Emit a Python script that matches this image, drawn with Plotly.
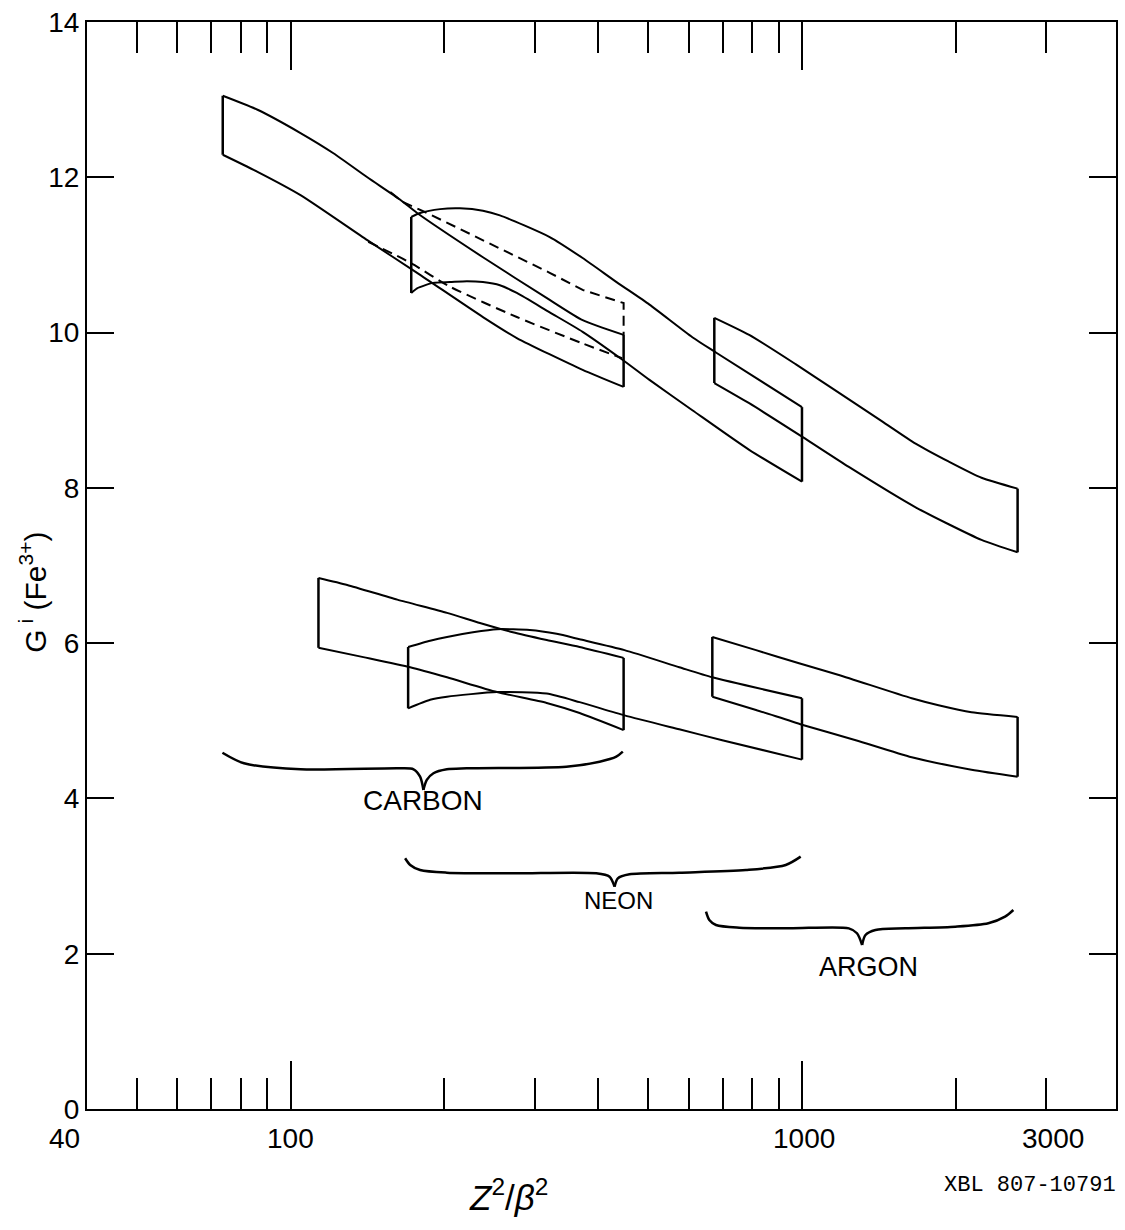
import numpy as np
import plotly.graph_objects as go

# ---------------- data: x = Z^2/beta^2 , y = G^i(Fe3+) ----------------
# Upper set of bands
carbon_u_top_x = [73.7, 86.2, 104.6, 121.3, 141.3, 163.9, 176.8, 237.8, 321.2, 372.5, 448]
carbon_u_top_y = [13.05, 12.87, 12.57, 12.31, 12.00, 11.71, 11.54, 10.97, 10.42, 10.16, 9.97]
carbon_u_bot_x = [73.7, 86.2, 104.6, 141.3, 176.8, 237.8, 277.0, 372.5, 448]
carbon_u_bot_y = [12.29, 12.07, 11.77, 11.19, 10.77, 10.20, 9.93, 9.52, 9.30]

carbon_dash_top_x = [156.7, 166.1, 184.9, 237.8, 321.2, 372.5, 448, 448]
carbon_dash_top_y = [11.81, 11.68, 11.54, 11.19, 10.77, 10.55, 10.38, 9.97]
carbon_dash_bot_x = [141.9, 171.4, 205.1, 277.0, 372.5, 445]
carbon_dash_bot_y = [11.17, 10.90, 10.59, 10.20, 9.86, 9.67]

neon_u_top_x = [172.2, 179.2, 196.1, 214.5, 237.8, 256.7, 321.2, 372.5, 434.0, 503.3, 610.5, 680.0, 1000]
neon_u_top_y = [11.49, 11.54, 11.59, 11.60, 11.57, 11.51, 11.23, 10.96, 10.65, 10.36, 9.94, 9.74, 9.04]
neon_u_bot_x = [172.2, 176.8, 190.0, 205.1, 221.3, 237.8, 256.7, 277.0, 321.2, 372.5, 445.7, 503.3, 610.5, 788.5, 1000]
neon_u_bot_y = [10.51, 10.57, 10.64, 10.65, 10.66, 10.65, 10.61, 10.51, 10.26, 10.01, 9.65, 9.39, 9.00, 8.49, 8.08]

argon_u_top_x = [673.9, 788.5, 973.4, 1128.9, 1432, 1668, 1934, 2244, 2640]
argon_u_top_y = [10.19, 9.97, 9.59, 9.31, 8.86, 8.57, 8.34, 8.13, 7.99]
argon_u_bot_x = [673.9, 788.5, 1000, 1235, 1668, 2244, 2640]
argon_u_bot_y = [9.35, 9.09, 8.66, 8.27, 7.75, 7.33, 7.17]

# Lower set of bands
carbon_l_top_x = [113.4, 129.1, 161.7, 202.3, 234.6, 272.1, 316.9, 367.5, 448]
carbon_l_top_y = [6.84, 6.75, 6.56, 6.39, 6.26, 6.14, 6.04, 5.95, 5.81]
carbon_l_bot_x = [113.4, 138.8, 171.4, 202.3, 253.3, 316.9, 367.5, 448]
carbon_l_bot_y = [5.94, 5.82, 5.69, 5.56, 5.37, 5.23, 5.10, 4.88]

neon_l_top_x = [169.8, 187.5, 202.3, 227.3, 253.3, 293.7, 331.4, 367.5, 449.8, 575.5, 667.9, 1000]
neon_l_top_y = [5.95, 6.03, 6.08, 6.14, 6.18, 6.17, 6.12, 6.05, 5.91, 5.69, 5.56, 5.29]
neon_l_bot_x = [169.8, 187.5, 202.3, 253.3, 316.9, 367.5, 449.8, 575.5, 698.4, 1000]
neon_l_bot_y = [5.16, 5.27, 5.31, 5.37, 5.35, 5.24, 5.07, 4.89, 4.75, 4.50]

argon_l_top_x = [667.9, 813.2, 986.8, 1180.6, 1639, 1849, 2145, 2640]
argon_l_top_y = [6.08, 5.91, 5.74, 5.59, 5.29, 5.20, 5.11, 5.05]
argon_l_bot_x = [667.9, 813.2, 1000, 1274, 1639, 2145, 2640]
argon_l_bot_y = [5.31, 5.14, 4.95, 4.75, 4.53, 4.37, 4.28]

# Braces grouping the bands
carbon_brace_x = [73.6, 81.1, 104.6, 163.9, 174.0, 179.2, 181.9, 184.7, 190.3, 202.1, 221.0, 346.2, 402.1, 433.5, 446.4]
carbon_brace_y = [4.589, 4.453, 4.375, 4.388, 4.375, 4.280, 4.109, 4.238, 4.324, 4.375, 4.388, 4.409, 4.473, 4.538, 4.602]
neon_brace_x = [167.5, 171.4, 179.2, 202.1, 272.4, 396.1, 420.6, 430.1, 436.5, 460.0, 575.5, 777.0, 929.4, 994.2]
neon_brace_y = [3.229, 3.143, 3.078, 3.044, 3.036, 3.036, 2.992, 2.863, 2.971, 3.023, 3.044, 3.078, 3.143, 3.250]
argon_brace_x = [649.2, 658.9, 679.0, 754.0, 943.4, 1235, 1281, 1311, 1331, 1392, 1593, 1994, 2314, 2495, 2590]
argon_brace_y = [2.541, 2.434, 2.370, 2.335, 2.327, 2.327, 2.263, 2.112, 2.241, 2.306, 2.327, 2.348, 2.392, 2.477, 2.563]

labels = ["CARBON", "NEON", "ARGON"]
label_x = [181.6, 437.8, 1351]
label_y = [3.967, 2.679, 1.829]

x_major_ticks = [100, 1000]
x_minor_ticks = [50, 60, 70, 80, 90, 200, 300, 400, 500, 600, 700, 800, 900, 2000, 3000]
x_tick_labels = ["40", "100", "1000", "3000"]
x_tick_label_vals = [40, 100, 1000, 3000]
y_ticks = [0, 2, 4, 6, 8, 10, 12, 14]

# ---------------- figure ----------------
fig = go.Figure()
BLACK = "black"


def curve(x, y, dash="solid", width=2.0, smoothing=0.6):
    fig.add_trace(go.Scatter(
        x=x, y=y, mode="lines",
        line=dict(color=BLACK, width=width, dash=dash, shape="spline", smoothing=smoothing),
        showlegend=False, hoverinfo="skip"))


def band(tx, ty, bx, by):
    curve(tx, ty)
    curve(bx, by)
    fig.add_trace(go.Scatter(
        x=[tx[0], bx[0], None, tx[-1], bx[-1]],
        y=[ty[0], by[0], None, ty[-1], by[-1]],
        mode="lines", line=dict(color=BLACK, width=2.5),
        showlegend=False, hoverinfo="skip"))


def brace(x, y):
    k = int(np.argmin(y))
    curve(x[:k + 1], y[:k + 1], width=2.5, smoothing=0.8)
    curve(x[k:], y[k:], width=2.5, smoothing=0.8)


band(carbon_u_top_x, carbon_u_top_y, carbon_u_bot_x, carbon_u_bot_y)
band(neon_u_top_x, neon_u_top_y, neon_u_bot_x, neon_u_bot_y)
band(argon_u_top_x, argon_u_top_y, argon_u_bot_x, argon_u_bot_y)
band(carbon_l_top_x, carbon_l_top_y, carbon_l_bot_x, carbon_l_bot_y)
band(neon_l_top_x, neon_l_top_y, neon_l_bot_x, neon_l_bot_y)
band(argon_l_top_x, argon_l_top_y, argon_l_bot_x, argon_l_bot_y)

fig.add_trace(go.Scatter(x=carbon_dash_top_x, y=carbon_dash_top_y, mode="lines",
                         line=dict(color=BLACK, width=2, dash="10px,6px"),
                         showlegend=False, hoverinfo="skip"))
fig.add_trace(go.Scatter(x=carbon_dash_bot_x, y=carbon_dash_bot_y, mode="lines",
                         line=dict(color=BLACK, width=2, dash="10px,6px", shape="spline", smoothing=0.6),
                         showlegend=False, hoverinfo="skip"))

brace(carbon_brace_x, carbon_brace_y)
brace(neon_brace_x, neon_brace_y)
brace(argon_brace_x, argon_brace_y)

annotations = []
label_fonts = [dict(family="Liberation Sans", size=28, color=BLACK),
               dict(family="Liberation Sans", size=24, color=BLACK),
               dict(family="Liberation Sans", size=27, color=BLACK)]
for t, lx, ly, f in zip(labels, label_x, label_y, label_fonts):
    annotations.append(dict(x=np.log10(lx), y=ly, xref="x", yref="y", text=t,
                            showarrow=False, font=f, xanchor="center", yanchor="middle"))

xshifts = [-23, 0, 2, 7]
for t, v, s in zip(x_tick_labels, x_tick_label_vals, xshifts):
    annotations.append(dict(x=np.log10(v), y=0, xref="x", yref="paper", text=t,
                            showarrow=False, xanchor="center", yanchor="middle",
                            xshift=s, yshift=-29,
                            font=dict(family="Liberation Sans", size=28, color=BLACK)))

annotations.append(dict(x=0.41, y=0, xref="paper", yref="paper",
                        text="<i>Z</i><sup>2</sup>/<i>β</i><sup>2</sup>",
                        showarrow=False, xanchor="center", yanchor="middle", yshift=-86,
                        font=dict(family="Liberation Sans", size=35, color=BLACK)))
annotations.append(dict(x=1, y=0, xref="paper", yref="paper", text="XBL 807-10791",
                        showarrow=False, xanchor="right", yanchor="middle", xshift=2, yshift=-76,
                        font=dict(family="Liberation Mono", size=22, color=BLACK)))
annotations.append(dict(x=0, y=0.475, xref="paper", yref="paper",
                        text="G<sup> i</sup> (Fe<sup>3+</sup>)", textangle=-90,
                        showarrow=False, xanchor="center", yanchor="middle", xshift=-54,
                        font=dict(family="Liberation Sans", size=30, color=BLACK)))

fig.update_layout(
    width=1125, height=1230,
    margin=dict(l=87, r=7, t=22, b=121),
    paper_bgcolor="white", plot_bgcolor="white",
    showlegend=False, annotations=annotations,
)
fig.update_xaxes(
    type="log", range=[np.log10(40), 3.614],
    showline=True, linecolor=BLACK, linewidth=2, mirror="ticks",
    ticks="inside", tickmode="array", tickvals=x_major_ticks, ticklen=48, tickwidth=2, tickcolor=BLACK,
    showticklabels=False, showgrid=False, zeroline=False,
    minor=dict(tickmode="array", tickvals=x_minor_ticks, ticks="inside", ticklen=31,
               tickwidth=2, tickcolor=BLACK, showgrid=False),
)
fig.update_yaxes(
    range=[0, 14], tickmode="array", tickvals=y_ticks,
    showline=True, linecolor=BLACK, linewidth=2, mirror="ticks",
    ticks="inside", ticklen=27, tickwidth=2, tickcolor=BLACK,
    tickfont=dict(family="Liberation Sans", size=28, color=BLACK),
    showgrid=False, zeroline=False,
)

fig.write_html("out.html")
